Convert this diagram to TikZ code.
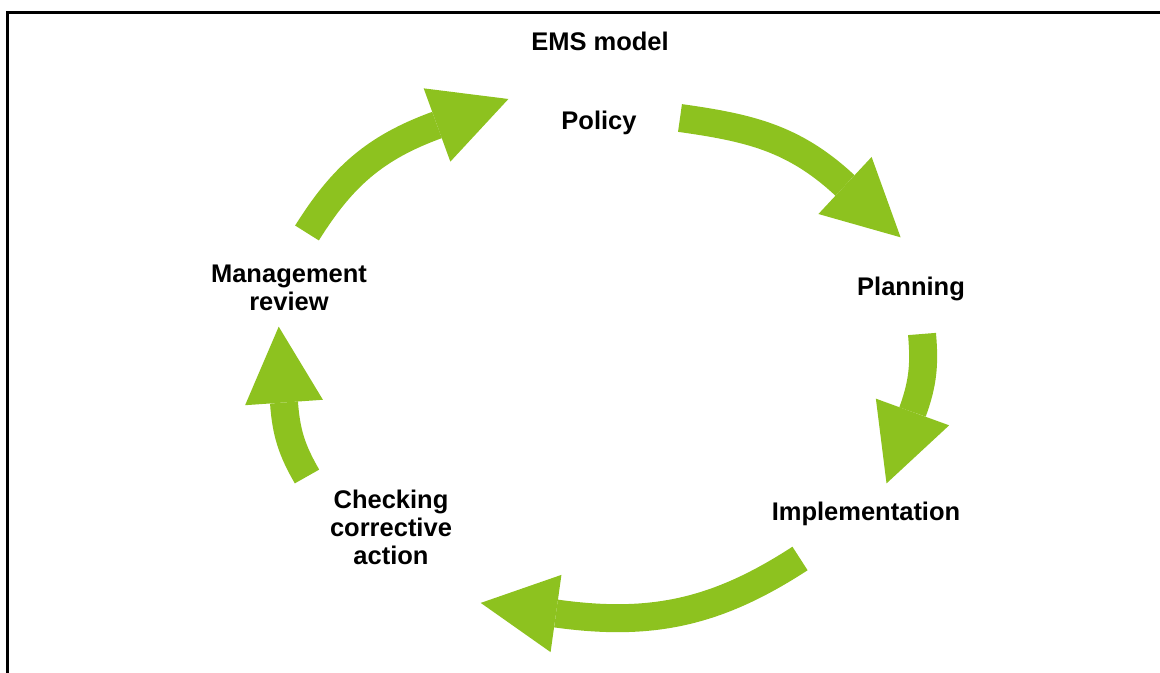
\documentclass[tikz,border=0pt]{standalone}
\usepackage{fontspec}
\setmainfont{Liberation Sans}
\usepackage{tikz}
\usetikzlibrary{arrows.meta}
\definecolor{emsink}{HTML}{000000}
\definecolor{emsgreen}{HTML}{8DC21F}
\tikzset{
  stagelbl/.style   = {font=\bfseries\fontsize{12.75pt}{14pt}\selectfont, align=center,
                       anchor=base, inner sep=0pt, text=emsink},
  % the path ends at the back of the head; the head sticks out past it
  cyclearrow/.style = {line width=14pt, draw=emsgreen, shorten >=-38pt,
                       -{Triangle[length=38pt, width=39pt, line width=0pt]}},
  frameline/.style  = {line width=1.5pt, draw=emsink},
}

\begin{document}
\begin{tikzpicture}[x=0.5pt, y=0.5pt]
\useasboundingbox (0,0) rectangle (1160,673);
% frame: only top and left edges are drawn
\draw[frameline] (7.5,0) |- (1160,660.5);

\node[stagelbl] (title) at (600,622) {EMS model};
\node[stagelbl] (pol) at (599,543) {Policy};
\node[stagelbl] (pla) at (911,377) {Planning};
\node[stagelbl] (imp) at (866,152) {Implementation};
\node[stagelbl] (chk) at (391,108) {Checking\\corrective\\action};
\node[stagelbl] (rev) at (289,362) {Management\\review};

% arrow ends around the cycle (tail, back of head)
\coordinate (revout) at (307,440);   \coordinate (polin) at (437,548);
\coordinate (polout) at (680,555);   \coordinate (plain) at (845,487.5);
\coordinate (plaout) at (922,339);   \coordinate (impin) at (912.5,261);
\coordinate (impout) at (800,114.5); \coordinate (chkin) at (556,59.5);
\coordinate (chkout) at (307,196.5); \coordinate (revin) at (284,270.5);

\draw[cyclearrow] (revout) to[out=58,in=200] (polin);
\draw[cyclearrow] (polout) to[out=-8,in=137] (plain);
\draw[cyclearrow] (plaout) to[out=-85,in=70] (impin);
\draw[cyclearrow] (impout) to[out=-147,in=-8] (chkin);
\draw[cyclearrow] (chkout) to[out=120,in=-86] (revin);
\end{tikzpicture}
\end{document}
